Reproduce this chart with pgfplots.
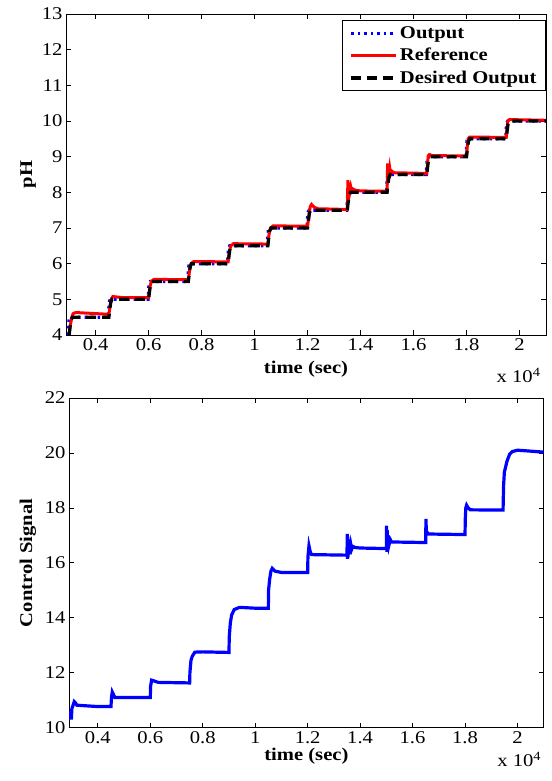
\documentclass[border=0pt]{standalone}
\usepackage{fontspec}
\setmainfont{Liberation Serif}[FakeStretch=1.15]
\usepackage{pgfplots}
\pgfplotsset{compat=1.18}
\newcommand{\fs}{\fontsize{18}{21}\selectfont}
\pgfplotsset{
  mystyle/.style={
    scale only axis,
    xmin=0.288, xmax=2.1,
    scaled ticks=false,
    xtick={0.4,0.6,0.8,1,1.2,1.4,1.6,1.8,2},
    xticklabels={0.4,0.6,0.8,1,1.2,1.4,1.6,1.8,2},
    tick align=inside,
    xtick pos=both, ytick pos=both,
    major tick length=5bp,
    axis line style={line width=1bp},
    every tick/.style={black, line width=0.8bp},
    tick label style={font=\fs},
    /pgf/number format/assume math mode=true,
    label style={font=\bfseries\fs},
    clip mode=individual,
  }
}
\begin{document}
\begin{tikzpicture}
\path[use as bounding box] (0,0) rectangle (552bp,-781bp);
% ---------------- top axis ----------------
\begin{axis}[mystyle,
  at={(66bp,-335bp)}, anchor=south west,
  width=480bp, height=321bp,
  ymin=4, ymax=13, ytick={4,5,...,13},
  xlabel={time (sec)},
  xlabel style={at={(axis description cs:0.5,-0.12)}, anchor=base},
  ylabel={pH},
  ylabel style={at={(axis description cs:-0.079,0.5)}, anchor=center},
  legend cell align=left,
  legend style={at={(1,1)}, anchor=north east, yshift=-6bp,
    draw=black, line width=1bp, font=\bfseries\fs,
    inner xsep=7bp, inner ysep=4bp, row sep=4.5bp},
  legend image code/.code={\draw[#1] (0bp,0bp) -- (45bp,0bp);},
]
\addplot[blue, line width=3.2bp, dash pattern=on 2.5bp off 4bp] coordinates {
(0.296,4.0)(0.298,4.3)(0.300,4.45)(0.304,4.5)
(0.448,4.5)(0.450,4.8)(0.452,4.95)(0.456,5.0)
(0.598,5.0)(0.600,5.3)(0.602,5.45)(0.606,5.5)
(0.748,5.5)(0.750,5.8)(0.752,5.95)(0.756,6.0)
(0.898,6.0)(0.900,6.3)(0.902,6.45)(0.906,6.5)
(1.048,6.5)(1.050,6.8)(1.052,6.95)(1.056,7.0)
(1.198,7.0)(1.200,7.3)(1.202,7.45)(1.206,7.5)
(1.348,7.5)(1.350,7.8)(1.352,7.95)(1.356,8.0)
(1.498,8.0)(1.500,8.3)(1.502,8.45)(1.506,8.5)
(1.648,8.5)(1.650,8.8)(1.652,8.95)(1.656,9.0)
(1.798,9.0)(1.800,9.3)(1.802,9.45)(1.806,9.5)
(1.948,9.5)(1.950,9.8)(1.952,9.95)(1.956,10.0)
(2.1,10.0)
};
\addlegendentry{Output}
\addplot[red, line width=3bp] coordinates {
(0.300,4.05)(0.305,4.3)(0.310,4.5)(0.315,4.6)(0.325,4.63)(0.35,4.62)(0.40,4.6)(0.45,4.58)
(0.455,4.85)(0.460,5.02)(0.465,5.08)(0.475,5.07)(0.50,5.05)(0.60,5.05)
(0.605,5.35)(0.610,5.5)(0.620,5.56)(0.75,5.55)
(0.755,5.85)(0.760,6.0)(0.770,6.06)(0.90,6.05)
(0.905,6.35)(0.910,6.5)(0.920,6.56)(1.05,6.55)
(1.055,6.85)(1.060,7.0)(1.070,7.06)(1.20,7.05)
(1.205,7.35)(1.210,7.6)(1.215,7.66)(1.225,7.58)(1.24,7.54)(1.35,7.52)
(1.351,7.8)(1.352,8.34)(1.353,7.95)(1.354,8.28)(1.356,8.0)(1.358,8.22)(1.360,8.03)
(1.363,8.15)(1.366,8.05)(1.370,8.1)(1.380,8.06)(1.40,8.04)(1.50,8.03)
(1.501,8.3)(1.502,8.81)(1.503,8.45)(1.505,8.75)(1.507,8.5)(1.510,8.68)(1.513,8.52)
(1.517,8.6)(1.525,8.55)(1.65,8.53)
(1.653,8.85)(1.656,9.03)(1.660,9.06)(1.670,9.03)(1.80,9.02)
(1.803,9.3)(1.806,9.5)(1.812,9.55)(1.95,9.54)
(1.953,9.8)(1.956,10.0)(1.962,10.04)(2.1,10.02)
};
\addlegendentry{Reference}
\addplot[black, line width=3.2bp, dash pattern=on 10bp off 6bp] coordinates {
(0.300,4.0)(0.303,4.2)(0.307,4.42)(0.312,4.5)
(0.450,4.5)(0.453,4.7)(0.457,4.92)(0.462,5.0)
(0.600,5.0)(0.603,5.2)(0.607,5.42)(0.612,5.5)
(0.750,5.5)(0.753,5.7)(0.757,5.92)(0.762,6.0)
(0.900,6.0)(0.903,6.2)(0.907,6.42)(0.912,6.5)
(1.050,6.5)(1.053,6.7)(1.057,6.92)(1.062,7.0)
(1.200,7.0)(1.203,7.2)(1.207,7.42)(1.212,7.5)
(1.350,7.5)(1.353,7.7)(1.357,7.92)(1.362,8.0)
(1.500,8.0)(1.503,8.2)(1.507,8.42)(1.512,8.5)
(1.650,8.5)(1.653,8.7)(1.657,8.92)(1.662,9.0)
(1.800,9.0)(1.803,9.2)(1.807,9.42)(1.812,9.5)
(1.950,9.5)(1.953,9.7)(1.957,9.92)(1.962,10.0)
(2.1,10.0)
};
\addlegendentry{Desired Output}
\node[anchor=base east, font=\fs, xshift=-2bp] at (rel axis cs:1,-0.1495) {x 10\textsuperscript{4}};
\end{axis}
% ---------------- bottom axis ----------------
\begin{axis}[mystyle,
  at={(69bp,-727.7bp)}, anchor=south west,
  width=474.7bp, height=329.7bp,
  xmin=0.29, xmax=2.1,
  ymin=10, ymax=22, ytick={10,12,...,22},
  xlabel={time (sec)},
  xlabel style={at={(axis description cs:0.5,-0.1)}, anchor=base},
  ylabel={Control Signal},
  ylabel style={at={(axis description cs:-0.0864,0.5)}, anchor=center},
]
\addplot[blue, line width=3.2bp] coordinates {
(0.295,10.3)(0.297,10.6)(0.299,10.3)(0.301,10.7)(0.305,10.8)(0.310,10.95)(0.315,10.9)
(0.320,10.82)(0.35,10.8)(0.40,10.77)(0.45,10.77)
(0.452,11.1)(0.455,11.3)(0.460,11.2)(0.465,11.1)(0.50,11.1)(0.60,11.1)
(0.601,11.5)(0.605,11.73)(0.615,11.7)(0.630,11.65)(0.75,11.63)
(0.751,12.0)(0.755,12.45)(0.760,12.6)(0.770,12.75)(0.80,12.76)(0.90,12.74)
(0.901,13.3)(0.905,13.8)(0.910,14.1)(0.920,14.3)(0.940,14.38)(1.00,14.35)(1.05,14.35)
(1.051,15.0)(1.055,15.4)(1.060,15.7)(1.065,15.8)(1.075,15.7)(1.10,15.65)(1.20,15.65)
(1.201,16.2)(1.205,16.62)(1.210,16.4)(1.215,16.3)(1.35,16.28)
(1.351,17.05)(1.352,16.15)(1.353,16.95)(1.354,16.2)(1.356,16.85)(1.358,16.3)(1.360,16.75)
(1.362,16.4)(1.365,16.65)(1.368,16.5)(1.372,16.6)(1.380,16.56)(1.40,16.54)(1.50,16.52)
(1.501,17.35)(1.502,16.4)(1.503,17.2)(1.505,16.5)(1.507,17.0)(1.510,16.65)(1.515,16.85)
(1.520,16.76)(1.65,16.74)
(1.651,17.6)(1.653,17.0)(1.655,17.12)(1.660,17.05)(1.80,17.03)
(1.801,17.6)(1.803,18.0)(1.806,18.1)(1.812,18.0)(1.820,17.93)(1.945,17.92)
(1.947,18.8)(1.950,19.3)(1.960,19.7)(1.970,19.95)(1.980,20.05)(2.00,20.1)(2.03,20.08)(2.1,20.03)
};
\node[anchor=base east, font=\fs, xshift=1bp] at (rel axis cs:1,-0.118) {x 10\textsuperscript{4}};
\end{axis}
\end{tikzpicture}
\end{document}
